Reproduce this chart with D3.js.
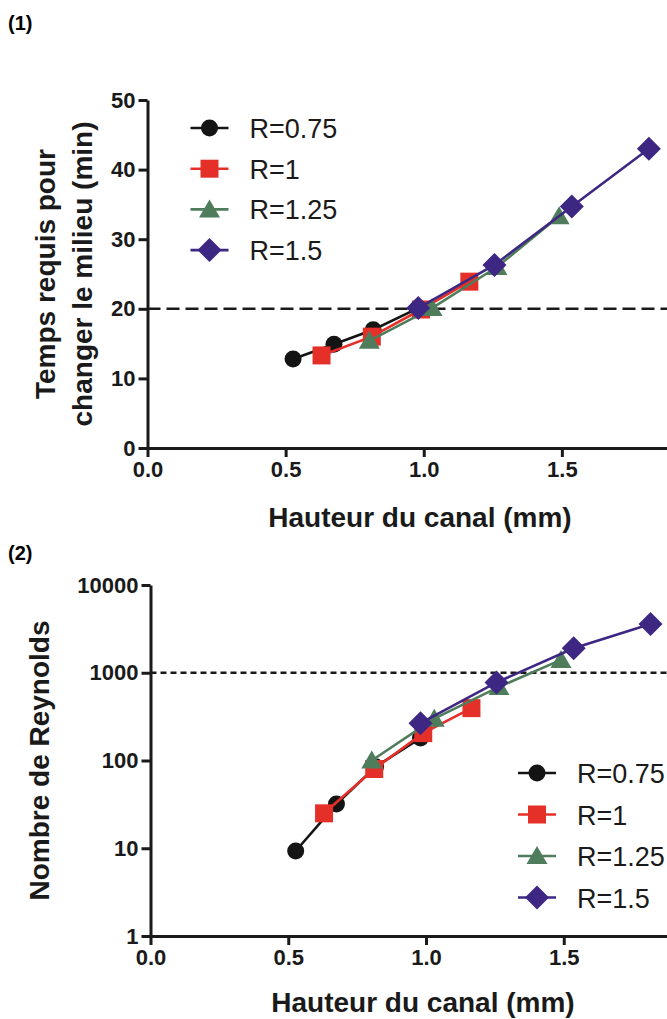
<!DOCTYPE html>
<html>
<head>
<meta charset="utf-8">
<script src="https://cdn.jsdelivr.net/npm/d3@7"></script>
<style>
  body { margin: 0; background: #ffffff; }
  svg { display: block; font-family: "Liberation Sans", Arial, sans-serif; }
  .axis path, .axis line { stroke: #1a1a1a; stroke-width: 3; }
  .axis text { font-size: 22px; font-weight: bold; fill: #1a1a1a; font-family: "Liberation Sans", Arial, sans-serif; }
</style>
</head>
<body>
<div id="chart"></div>
<script>
// values
var seriesNames = ["R=0.75", "R=1", "R=1.25", "R=1.5"];
var seriesColors = ["#141414", "#e5302a", "#4f7d5c", "#3d2782"];
var seriesShapes = ["circle", "square", "triangle", "diamond"];

// channel height (mm) for each R
var hauteur_075 = [0.527, 0.675, 0.817, 0.980];
var hauteur_1   = [0.630, 0.812, 0.990, 1.165];
var hauteur_125 = [0.803, 1.030, 1.265, 1.490];
var hauteur_15  = [0.980, 1.256, 1.536, 1.815];

// (1) time needed to change the medium (min)
var temps_075 = [12.8, 14.9, 17.0, 20.1];
var temps_1   = [13.3, 16.0, 19.9, 23.9];
var temps_125 = [15.4, 20.1, 26.0, 33.3];
var temps_15  = [20.1, 26.3, 34.7, 43.0];

// (2) Reynolds number
var reynolds_075 = [9.3, 31.9, 85, 180];
var reynolds_1   = [25, 80, 205, 395];
var reynolds_125 = [100, 300, 690, 1400];
var reynolds_15  = [266, 775, 1900, 3600];

// the x axis runs to 2.0, which falls just past the right edge
var xDomain = [0, 2];
var xTicks = [0, 0.5, 1.0, 1.5];
var tempsTicks = [0, 10, 20, 30, 40, 50];
var reynoldsTicks = [1, 10, 100, 1000, 10000];
var tempsRef = 20;
var reynoldsRef = 1000;

var hauteurs = [hauteur_075, hauteur_1, hauteur_125, hauteur_15];
var temps = [temps_075, temps_1, temps_125, temps_15];
var reynolds = [reynolds_075, reynolds_1, reynolds_125, reynolds_15];

var width = 667, height = 1019;

var svg = d3.select("#chart").append("svg")
  .attr("width", width)
  .attr("height", height);

svg.append("rect").attr("width", width).attr("height", height).attr("fill", "#ffffff");

function markerPath(shape) {
  if (shape == "circle") return d3.symbol().type(d3.symbolCircle).size(Math.PI * 8.5 * 8.5)();
  if (shape == "square") return "M-9,-9H9V9H-9Z";
  if (shape == "triangle") return "M0,-10L10.5,8L-10.5,8Z";
  return "M0,-12L12,0L0,12L-12,0Z";
}

function drawSeries(g, xScale, yScale, ys) {
  for (var i = 0; i < seriesNames.length; i++) {
    var pts = hauteurs[i].map(function(h, j) { return [h, ys[i][j]]; });
    var line = d3.line()
      .x(function(d) { return xScale(d[0]); })
      .y(function(d) { return yScale(d[1]); });
    g.append("path")
      .datum(pts)
      .attr("d", line)
      .attr("fill", "none")
      .attr("stroke", seriesColors[i])
      .attr("stroke-width", 2.6);
    g.selectAll(".pt" + i)
      .data(pts)
      .enter().append("path")
        .attr("class", "pt" + i)
        .attr("d", markerPath(seriesShapes[i]))
        .attr("transform", function(d) { return "translate(" + xScale(d[0]) + "," + yScale(d[1]) + ")"; })
        .attr("fill", seriesColors[i]);
  }
}

function drawLegend(g, x, yTop, gap) {
  for (var i = 0; i < seriesNames.length; i++) {
    var y = yTop + i * gap;
    g.append("line")
      .attr("x1", x - 19).attr("x2", x + 19)
      .attr("y1", y).attr("y2", y)
      .attr("stroke", seriesColors[i])
      .attr("stroke-width", 2.6);
    g.append("path")
      .attr("d", markerPath(seriesShapes[i]))
      .attr("transform", "translate(" + x + "," + y + ")")
      .attr("fill", seriesColors[i]);
    g.append("text")
      .attr("x", x + 40)
      .attr("y", y + 10)
      .style("font-size", "27px")
      .style("fill", "#1a1a1a")
      .text(seriesNames[i]);
  }
}

function xTitle(g, cx, y) {
  g.append("text")
    .attr("x", cx).attr("y", y)
    .attr("text-anchor", "middle")
    .style("font-size", "28px").style("font-weight", "bold").style("fill", "#1a1a1a")
    .text("Hauteur du canal (mm)");
}

// ---------- chart (1) ----------
var g1 = svg.append("g");

var x1 = d3.scaleLinear().domain(xDomain).range([147.5, 700]);
var y1 = d3.scaleLinear().domain([0, 50]).range([448, 100]);

g1.append("text").attr("x", 8).attr("y", 30)
  .style("font-size", "20px").style("font-weight", "bold").text("(1)");

g1.append("line")
  .attr("x1", x1(0)).attr("x2", width)
  .attr("y1", y1(tempsRef)).attr("y2", y1(tempsRef))
  .attr("stroke", "#1a1a1a").attr("stroke-width", 2.6)
  .attr("stroke-dasharray", "13,6");

g1.append("g").attr("class", "axis")
  .attr("transform", "translate(0," + y1(0) + ")")
  .call(d3.axisBottom(x1).tickValues(xTicks).tickFormat(d3.format(".1f")).tickSize(9).tickSizeOuter(0).tickPadding(4));

g1.append("g").attr("class", "axis")
  .attr("transform", "translate(" + x1(0) + ",0)")
  .call(d3.axisLeft(y1).tickValues(tempsTicks).tickSize(9).tickSizeOuter(0).tickPadding(3));

drawSeries(g1, x1, y1, temps);
drawLegend(g1, 209.5, 128, 40.7);

g1.append("text")
  .attr("transform", "translate(55," + ((y1(0) + y1(50)) / 2) + ") rotate(-90)")
  .attr("text-anchor", "middle")
  .style("font-size", "28px").style("font-weight", "bold").style("fill", "#1a1a1a")
  .text("Temps requis pour");
g1.append("text")
  .attr("transform", "translate(92," + ((y1(0) + y1(50)) / 2) + ") rotate(-90)")
  .attr("text-anchor", "middle")
  .style("font-size", "28px").style("font-weight", "bold").style("fill", "#1a1a1a")
  .text("changer le milieu (min)");

xTitle(g1, 420, 527);

// ---------- chart (2) ----------
var g2 = svg.append("g");

var x2 = d3.scaleLinear().domain(xDomain).range([150.5, 701.5]);
var y2 = d3.scaleLog().domain([1, 10000]).range([936, 585]);

g2.append("text").attr("x", 8).attr("y", 560)
  .style("font-size", "20px").style("font-weight", "bold").text("(2)");

g2.append("line")
  .attr("x1", x2(0)).attr("x2", width)
  .attr("y1", y2(reynoldsRef)).attr("y2", y2(reynoldsRef))
  .attr("stroke", "#1a1a1a").attr("stroke-width", 2.6)
  .attr("stroke-dasharray", "6,4");

g2.append("g").attr("class", "axis")
  .attr("transform", "translate(0," + y2(1) + ")")
  .call(d3.axisBottom(x2).tickValues(xTicks).tickFormat(d3.format(".1f")).tickSize(9).tickSizeOuter(0).tickPadding(4));

g2.append("g").attr("class", "axis")
  .attr("transform", "translate(" + x2(0) + ",0)")
  .call(d3.axisLeft(y2).tickValues(reynoldsTicks).tickFormat(d3.format("d")).tickSize(9).tickSizeOuter(0).tickPadding(3));

drawSeries(g2, x2, y2, reynolds);
drawLegend(g2, 537, 773, 41.5);

g2.append("text")
  .attr("transform", "translate(49," + ((y2(1) + y2(10000)) / 2) + ") rotate(-90)")
  .attr("text-anchor", "middle")
  .style("font-size", "28px").style("font-weight", "bold").style("fill", "#1a1a1a")
  .text("Nombre de Reynolds");

xTitle(g2, 423, 1012);
</script>
</body>
</html>
